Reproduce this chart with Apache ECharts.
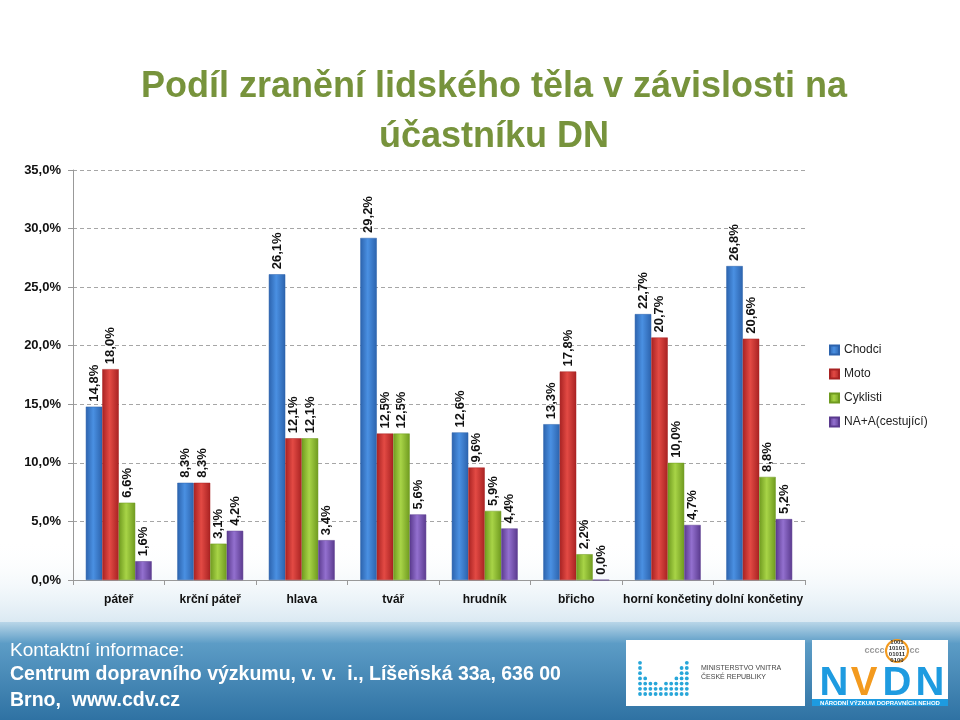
<!DOCTYPE html>
<html>
<head>
<meta charset="utf-8">
<script src="https://cdn.jsdelivr.net/npm/echarts@6/dist/echarts.min.js"></script>
<style>
  html, body { margin: 0; padding: 0; background: #fff; }
  #chart { width: 960px; height: 720px; }
</style>
</head>
<body>
<div id="chart"></div>
<script>
const categories = ['páteř', 'krční páteř', 'hlava', 'tvář', 'hrudník', 'břicho', 'horní končetiny', 'dolní končetiny']
const chodci = [14.8, 8.3, 26.1, 29.2, 12.6, 13.3, 22.7, 26.8]
const moto = [18.0, 8.3, 12.1, 12.5, 9.6, 17.8, 20.7, 20.6]
const cyklisti = [6.6, 3.1, 12.1, 12.5, 5.9, 2.2, 10.0, 8.8]
const cestujici = [1.6, 4.2, 3.4, 5.6, 4.4, 0.0, 4.7, 5.2]

const FONT = '"Liberation Sans Narrow", "Liberation Sans", Arial, sans-serif'
const pct = (v) => v.toFixed(1).replace('.', ',') + '%'

// horizontal gradient to fake the 3D cylinder look of the original
const barFill = (edge, mid) => new echarts.graphic.LinearGradient(0, 0, 1, 0, [
  { offset: 0, color: edge },
  { offset: 0.45, color: mid },
  { offset: 1, color: edge }
])

const makeSeries = (name, data, edge, mid, legendColor) => ({
  name,
  type: 'bar',
  data,
  barGap: '0%',
  barCategoryGap: '28%',
  itemStyle: { color: barFill(edge, mid), borderColor: edge, borderWidth: 0.5 },
  label: {
    show: true,
    position: 'top',
    rotate: 90,
    align: 'left',
    verticalAlign: 'middle',
    distance: 5,
    formatter: (p) => pct(p.value),
    fontFamily: FONT,
    fontWeight: 'bold',
    fontSize: 13,
    color: '#111'
  },
  color: legendColor
})

const chart = echarts.init(document.getElementById('chart'))

// ministry logo dots (decoration)
const dotCols = [7, 4, 3, 3, 2, 3, 3, 4, 6, 7]
const dots = []
dotCols.forEach((n, i) => {
  for (let j = 0; j < n; j++) {
    dots.push({ type: 'circle', shape: { cx: 640 + i * 5.2, cy: 694 - j * 5.2, r: 1.9 }, style: { fill: '#27a6d9' } })
  }
})

chart.setOption({
  backgroundColor: '#fff',
  title: {
    text: 'Podíl zranění lidského těla v závislosti na\núčastníku DN',
    left: 489,
    top: 57,
    textAlign: 'center',
    textStyle: { fontFamily: FONT, fontSize: 36, fontWeight: 'bold', color: '#77933c', lineHeight: 50 }
  },
  graphic: [
    {
      type: 'rect', z: -10, silent: true,
      shape: { x: 0, y: 540, width: 960, height: 90 },
      style: { fill: new echarts.graphic.LinearGradient(0, 0, 0, 1, [
        { offset: 0, color: 'rgba(255,255,255,0)' },
        { offset: 1, color: 'rgba(200,222,236,0.8)' }
      ]) }
    },
    {
      type: 'rect', z: -5, silent: true,
      shape: { x: 0, y: 622, width: 960, height: 98 },
      style: { fill: new echarts.graphic.LinearGradient(0, 0, 0, 1, [
        { offset: 0, color: '#b9d6e8' },
        { offset: 0.22, color: '#5c9cc6' },
        { offset: 1, color: '#2f72a3' }
      ]) }
    },
    { type: 'text', style: { text: 'Kontaktní informace:', x: 10, y: 651, textVerticalAlign: 'middle', font: 'normal 19px ' + FONT, fill: '#fff' } },
    { type: 'text', style: { text: 'Centrum dopravního výzkumu, v. v.  i., Líšeňská 33a, 636 00', x: 10, y: 675, textVerticalAlign: 'middle', font: 'bold 19.5px ' + FONT, fill: '#fff' } },
    { type: 'text', style: { text: 'Brno,  www.cdv.cz', x: 10, y: 701, textVerticalAlign: 'middle', font: 'bold 19.5px ' + FONT, fill: '#fff' } },
    { type: 'rect', shape: { x: 626, y: 640, width: 179, height: 66 }, style: { fill: '#fff' } },
    ...dots,
    { type: 'text', style: { text: 'MINISTERSTVO VNITRA\nČESKÉ REPUBLIKY', x: 701, y: 673, textVerticalAlign: 'middle', font: 'normal 7px ' + FONT, fill: '#444', lineHeight: 9 } },
    { type: 'rect', shape: { x: 812, y: 640, width: 136, height: 66 }, style: { fill: '#fff' } },
    { type: 'text', style: { text: 'ccccccccccc', x: 892, y: 651, textAlign: 'center', textVerticalAlign: 'middle', font: 'bold 9px ' + FONT, fill: '#999' } },
    { type: 'circle', shape: { cx: 897, cy: 651, r: 11 }, style: { fill: '#fff', stroke: '#f39a1e', lineWidth: 2 } },
    { type: 'text', style: { text: '1001\n10101\n01011\n0100', x: 897, y: 651, textAlign: 'center', textVerticalAlign: 'middle', font: 'bold 6px ' + FONT, fill: '#333', lineHeight: 6 } },
    { type: 'text', style: { text: 'N', x: 834, y: 684, textAlign: 'center', textVerticalAlign: 'middle', font: 'bold 40px ' + FONT, fill: '#1e9be0' } },
    { type: 'text', style: { text: 'V', x: 864, y: 684, textAlign: 'center', textVerticalAlign: 'middle', font: 'bold 40px ' + FONT, fill: '#f39a1e' } },
    { type: 'text', style: { text: 'D', x: 897, y: 684, textAlign: 'center', textVerticalAlign: 'middle', font: 'bold 40px ' + FONT, fill: '#1e9be0' } },
    { type: 'text', style: { text: 'N', x: 930, y: 684, textAlign: 'center', textVerticalAlign: 'middle', font: 'bold 40px ' + FONT, fill: '#1e9be0' } },
    { type: 'rect', shape: { x: 812, y: 699, width: 136, height: 7 }, style: { fill: '#1e9be0' } },
    { type: 'text', style: { text: 'NÁRODNÍ VÝZKUM DOPRAVNÍCH NEHOD', x: 880, y: 703, textAlign: 'center', textVerticalAlign: 'middle', font: 'bold 6px ' + FONT, fill: '#fff' } }
  ],
  legend: {
    orient: 'vertical',
    left: 829,
    top: 344,
    padding: 0,
    itemWidth: 9,
    itemHeight: 9,
    itemGap: 12,
    icon: 'rect',
    textStyle: { fontFamily: FONT, fontSize: 12, color: '#222' },
    data: ['Chodci', 'Moto', 'Cyklisti', 'NA+A(cestující)']
  },
  grid: { left: 73, right: 155, top: 170, bottom: 140 },
  xAxis: {
    type: 'category',
    data: categories,
    axisLine: { lineStyle: { color: '#999' } },
    axisTick: { show: true, length: 5, lineStyle: { color: '#999' } },
    axisLabel: { interval: 0, margin: 14, fontFamily: FONT, fontWeight: 'bold', fontSize: 12, color: '#111' }
  },
  yAxis: {
    type: 'value',
    min: 0,
    max: 35,
    interval: 5,
    axisLine: { show: true, lineStyle: { color: '#999' } },
    axisTick: { show: true, length: 5, lineStyle: { color: '#999' } },
    splitLine: { lineStyle: { color: '#a6a6a6', type: [4, 3] } },
    axisLabel: { margin: 12, formatter: (v) => pct(v), fontFamily: FONT, fontWeight: 'bold', fontSize: 13, color: '#111' }
  },
  series: [
    makeSeries('Chodci', chodci, '#2c63ad', '#4a90e2', '#3e7cc8'),
    makeSeries('Moto', moto, '#a82222', '#e34a44', '#d03a36'),
    makeSeries('Cyklisti', cyklisti, '#6f9a1f', '#a8d447', '#94c23a'),
    makeSeries('NA+A(cestující)', cestujici, '#5a3a8e', '#9370cf', '#7f5cbc')
  ]
})
</script>
</body>
</html>
